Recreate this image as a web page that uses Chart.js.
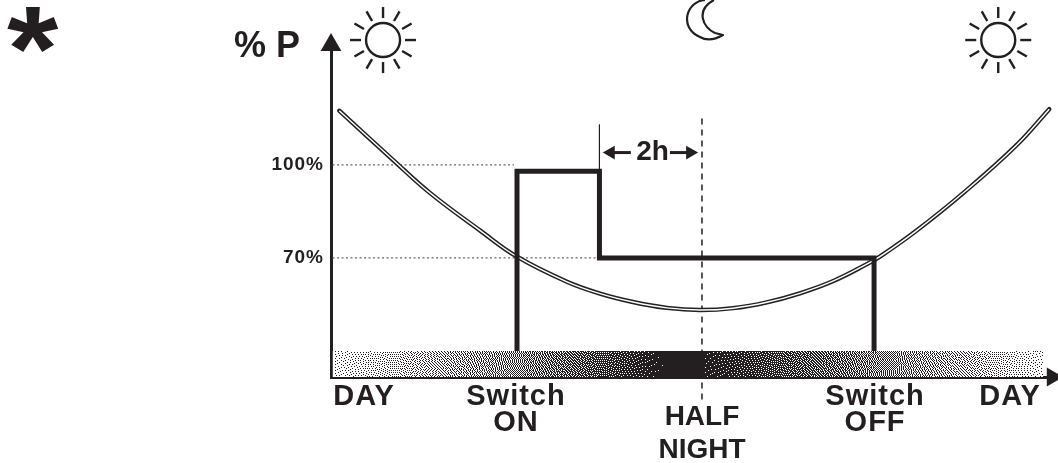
<!DOCTYPE html>
<html>
<head>
<meta charset="utf-8">
<style>
  html, body { margin: 0; padding: 0; background: #fff; }
  #wrap { position: relative; width: 1058px; height: 463px; overflow: hidden; }
</style>
<script src="https://cdn.jsdelivr.net/npm/chart.js@4"></script>
</head>
<body>
<div id="wrap"><canvas id="chart" width="1058" height="463"></canvas></div>
<script>
// x = hours from half night, y = % power
const curveHours = [-7.04, -6.02, -5.28, -4.31, -3.59, -2.62, -1.98, -1.34, -0.68, -0.04, 0.60, 1.26, 1.90, 2.54, 3.20, 3.46, 4.14, 5.11, 6.10, 6.74];
const curvePower = [117.5, 102, 91, 78.9, 70.4, 62.3, 58.5, 55.8, 53.9, 53.2, 53.8, 55.7, 58.6, 62.5, 68, 70.5, 78.5, 91.5, 106.3, 118];

const stepHours = [-3.59, -3.59, -1.99, -1.99, 3.34, 3.34];
const stepPower = [40, 98, 98, 70, 70, 40];

const bandHours = [-7.17, 6.62];
const bandPower = [40, 40];
const bandStopHours = [-7.17, -5.5, -3.6, -1.5, -0.7, -0.04, 0.02, 1.5, 3.4, 5.2, 6.62];
const bandStopDark = [0.12, 0.3, 0.5, 0.82, 1, 1, 0.95, 0.75, 0.52, 0.32, 0.12];

const dotted100Hours = [-7.17, -3.65];
const dotted100Power = [100, 100];
const dotted70Hours = [-7.17, -2.0];
const dotted70Power = [70, 70];

const halfNightHours = [0, 0];
const halfNightPower = [115, 24];
const markerHours = [-1.99, -1.99];
const markerPower = [113, 98];
const arrowLeftHours = [-1.77, -1.38];
const arrowRightHours = [-0.23, -0.62];
const arrowPower = [104, 104];

const xMin = -7.2, xMax = 6.91, yMin = 31.6, yMax = 138.7;
const yTicks = [70, 100];
const xTickHours = [-6.56, -3.61, 3.36, 5.98];
const xTickLabels = [['DAY'], ['Switch', 'ON'], ['Switch', 'OFF'], ['DAY']];
const sunHours = [-6.19, 5.75];

const INK = '#231f20';
const FONT = '"Liberation Sans", Arial, sans-serif';

function zip(xs, ys) {
  return xs.map((x, i) => ({ x, y: ys[i] }));
}

function darkAt(h) {
  if (h < bandStopHours[0]) return 0;
  for (let i = 1; i < bandStopHours.length; i++) {
    if (h <= bandStopHours[i]) {
      const t = (h - bandStopHours[i - 1]) / (bandStopHours[i] - bandStopHours[i - 1]);
      return bandStopDark[i - 1] + t * (bandStopDark[i] - bandStopDark[i - 1]);
    }
  }
  return 0;
}

// stippled gradient for the night band, error diffusion so it looks like the print
let bandPattern = null;
function getBandPattern(chart) {
  if (!chart.chartArea) return INK;
  if (bandPattern) return bandPattern;
  const w = chart.width, h = chart.height;
  const c = document.createElement('canvas');
  c.width = w; c.height = h;
  const g = c.getContext('2d');
  const img = g.createImageData(w, h);
  const err = new Float32Array(w * h);
  const firstRow = Math.floor(chart.scales.y.getPixelForValue(bandPower[0])) - 1;
  for (let y = 0; y < h; y++) {
    for (let x = 0; x < w; x++) {
      const i = y * w + x;
      const p = i * 4;
      img.data[p + 3] = 255;
      if (y < firstRow) { img.data[p] = img.data[p + 1] = img.data[p + 2] = 255; continue; }
      const dark = darkAt(chart.scales.x.getValueForPixel(x));
      const v = dark + err[i];
      const on = v > 0.5 ? 1 : 0;
      const e = dark > 0 ? v - on : 0;
      if (x + 1 < w) err[i + 1] += e * 7 / 16;
      if (y + 1 < h) {
        if (x > 0) err[i + w - 1] += e * 3 / 16;
        err[i + w] += e * 5 / 16;
        if (x + 1 < w) err[i + w + 1] += e / 16;
      }
      const col = on ? [35, 31, 32] : [255, 255, 255];
      img.data[p] = col[0]; img.data[p + 1] = col[1]; img.data[p + 2] = col[2];
    }
  }
  g.putImageData(img, 0, 0);
  bandPattern = chart.ctx.createPattern(c, 'no-repeat');
  return bandPattern;
}

function sun(ctx, cx, cy) {
  ctx.strokeStyle = INK;
  ctx.lineWidth = 2.4;
  ctx.beginPath();
  ctx.arc(cx, cy, 17, 0, Math.PI * 2);
  ctx.stroke();
  for (let a = 0; a < 12; a++) {
    const t = a * Math.PI / 6;
    ctx.beginPath();
    ctx.moveTo(cx + Math.cos(t) * 22, cy + Math.sin(t) * 22);
    ctx.lineTo(cx + Math.cos(t) * 33, cy + Math.sin(t) * 33);
    ctx.stroke();
  }
}

function moon(ctx, cx) {
  ctx.strokeStyle = INK;
  ctx.lineWidth = 2.2;
  ctx.lineJoin = 'round';
  ctx.beginPath();
  ctx.moveTo(cx + 3, 0);
  ctx.bezierCurveTo(cx - 15, 1, cx - 24, 27, cx - 2, 37);
  ctx.bezierCurveTo(cx + 5, 41, cx + 14, 39, cx + 21, 35);
  ctx.lineTo(cx + 13, 33);
  ctx.bezierCurveTo(cx + 1, 28, cx - 7, 10, cx + 12, 0);
  ctx.stroke();
}

const extras = {
  id: 'extras',
  beforeDraw(chart) {
    chart.ctx.letterSpacing = '1px';
  },
  afterDraw(chart) {
    const ctx = chart.ctx;
    const x = chart.scales.x, y = chart.scales.y;
    ctx.save();
    ctx.letterSpacing = '0px';
    ctx.fillStyle = INK;
    ctx.textBaseline = 'alphabetic';
    ctx.textAlign = 'left';

    ctx.save();
    ctx.translate(7, 90);
    ctx.scale(1.03, 0.94);
    ctx.font = 'bold 128px ' + FONT;
    ctx.fillText('*', 0, 0);
    ctx.restore();

    ctx.font = 'bold 36px ' + FONT;
    ctx.fillText('% P', 234, 57);

    ctx.font = 'bold 28px ' + FONT;
    ctx.textAlign = 'center';
    ctx.fillText('2h', x.getPixelForValue(-0.96), y.getPixelForValue(101.6));
    ctx.fillText('HALF', x.getPixelForValue(0), 425);
    ctx.fillText('NIGHT', x.getPixelForValue(0), 458);

    sunHours.forEach(h => sun(ctx, x.getPixelForValue(h), y.getPixelForValue(140.3)));
    moon(ctx, x.getPixelForValue(0));
    ctx.restore();
  }
};

new Chart(document.getElementById('chart'), {
  type: 'scatter',
  plugins: [extras],
  data: {
    // first dataset is painted last
    datasets: [
      { data: [{ x: 6.8, y: yMin }], clip: false, pointStyle: 'triangle', pointRadius: 11, pointRotation: 90, pointBorderWidth: 0, backgroundColor: INK },
      { data: [{ x: xMin, y: yMax }], clip: false, pointStyle: 'triangle', pointRadius: 12, pointBorderWidth: 0, backgroundColor: INK },
      { data: zip(arrowRightHours, arrowPower), showLine: true, borderWidth: 3, borderColor: INK, backgroundColor: INK, pointStyle: 'triangle', pointBorderWidth: 0, pointRadius: [8, 0], pointRotation: [90, 0] },
      { data: zip(arrowLeftHours, arrowPower), showLine: true, borderWidth: 3, borderColor: INK, backgroundColor: INK, pointStyle: 'triangle', pointBorderWidth: 0, pointRadius: [8, 0], pointRotation: [-90, 0] },
      { data: zip(markerHours, markerPower), showLine: true, pointRadius: 0, borderWidth: 1, borderColor: INK },
      { data: zip(stepHours, stepPower), showLine: true, pointRadius: 0, borderWidth: 5, borderColor: INK, borderJoinStyle: 'miter' },
      { data: zip(curveHours, curvePower), showLine: true, pointRadius: 0, borderWidth: 1.4, borderColor: '#fff', tension: 0.4 },
      { data: zip(curveHours, curvePower), showLine: true, pointRadius: 0, borderWidth: 4.4, borderColor: '#222', tension: 0.4, borderCapStyle: 'round' },
      { data: zip(halfNightHours, halfNightPower), showLine: true, pointRadius: 0, borderWidth: 1.5, borderColor: INK, borderDash: [6, 5], clip: false },
      { data: zip(dotted70Hours, dotted70Power), showLine: true, pointRadius: 0, borderWidth: 1.3, borderColor: '#666', borderDash: [2, 2.5] },
      { data: zip(dotted100Hours, dotted100Power), showLine: true, pointRadius: 0, borderWidth: 1.3, borderColor: '#666', borderDash: [2, 2.5] },
      { data: zip(bandHours, bandPower), showLine: true, pointRadius: 0, borderWidth: 0, fill: 'start', backgroundColor: ctx => getBandPattern(ctx.chart) }
    ]
  },
  options: {
    responsive: false,
    animation: false,
    events: [],
    layout: { autoPadding: false, padding: { top: 45, left: 0, right: 0, bottom: 0 } },
    plugins: { legend: { display: false }, tooltip: { enabled: false } },
    scales: {
      x: {
        type: 'linear', min: xMin, max: xMax,
        grid: { display: false, drawTicks: false },
        border: { color: INK, width: 3 },
        afterFit: s => { s.height = 86; },
        afterBuildTicks: s => { s.ticks = xTickHours.map(v => ({ value: v })); },
        ticks: {
          autoSkip: false, maxRotation: 0, padding: 7, color: INK,
          font: { family: FONT, weight: 'bold', size: 29, lineHeight: '26px' },
          callback: (v, i) => xTickLabels[i]
        }
      },
      y: {
        type: 'linear', min: yMin, max: yMax,
        grid: { display: false, drawTicks: false },
        border: { color: INK, width: 3 },
        afterFit: s => { s.width = 331; },
        afterBuildTicks: s => { s.ticks = yTicks.map(v => ({ value: v })); },
        ticks: {
          padding: 7, color: INK,
          font: { family: FONT, weight: 'bold', size: 19 },
          callback: v => v + '%'
        }
      }
    }
  }
});
</script>
</body>
</html>
